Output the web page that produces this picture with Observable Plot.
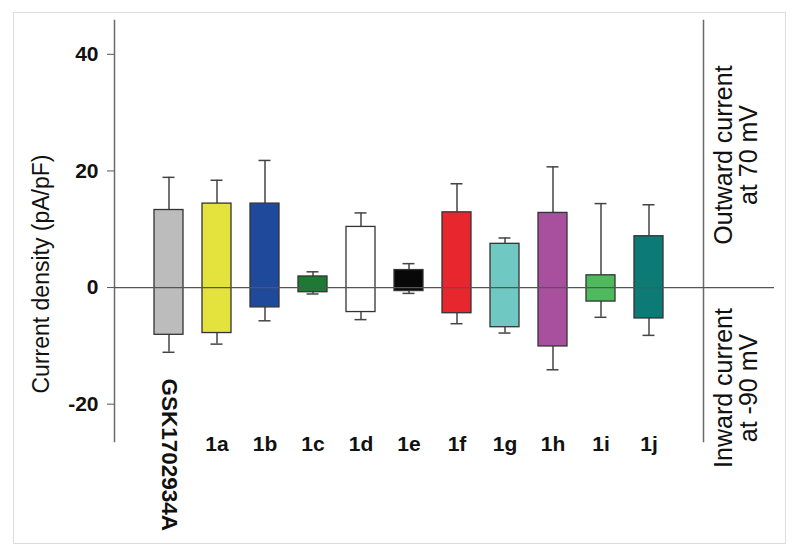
<!DOCTYPE html>
<html>
<head>
<meta charset="utf-8">
<script src="https://cdn.jsdelivr.net/npm/d3@7"></script>
<script src="https://cdn.jsdelivr.net/npm/@observablehq/plot@0.6"></script>
<style>
  html, body { margin: 0; padding: 0; background: #fff; }
  #wrap { position: relative; width: 800px; height: 556px; overflow: hidden; }
  #border { position: absolute; left: 13px; top: 12px; width: 773px; height: 532px; border: 1px solid #dcdcdc; box-sizing: border-box; pointer-events: none; }
  #chart { position: absolute; left: 0; top: 0; }
</style>
</head>
<body>
<div id="wrap"><div id="chart"></div><div id="border"></div></div>
<script>
// Categories
const names = ["GSK1702934A", "1a", "1b", "1c", "1d", "1e", "1f", "1g", "1h", "1i", "1j"];
// Outward current at 70 mV (mean, pA/pF) and its error
const outward = [13.3, 14.4, 14.4, 1.9, 10.4, 3.0, 12.9, 7.5, 12.8, 2.1, 8.8];
const outwardErr = [5.6, 4.0, 7.4, 0.8, 2.4, 1.1, 4.9, 1.0, 7.9, 12.3, 5.4];
// Inward current at -90 mV (mean, pA/pF) and its error
const inward = [-8.1, -7.8, -3.4, -0.8, -4.2, -0.6, -4.4, -6.8, -10.1, -2.4, -5.3];
const inwardErr = [3.0, 1.9, 2.3, 0.3, 1.3, 0.4, 1.8, 1.0, 4.0, 2.7, 2.9];
// Bar colours
const colors = ["#bcbcbc", "#e4e23c", "#1f4a9c", "#1d7a33", "#ffffff", "#080808", "#e8262d", "#6fc8c1", "#a84f9d", "#4fb95e", "#0c7a75"];
// Y tick values
const yTicks = [40, 20, 0, -20];

const data = names.map((name, i) => ({
  name,
  out: outward[i],
  outTop: outward[i] + outwardErr[i],
  inw: inward[i],
  inwBot: inward[i] - inwardErr[i]
}));

const font = "'Liberation Sans', Arial, Helvetica, sans-serif";

const plot = Plot.plot({
  width: 800,
  height: 556,
  marginLeft: 114,
  marginRight: 97,
  marginTop: 20,
  marginBottom: 115,
  style: { fontFamily: font, background: "transparent", overflow: "visible" },
  x: { domain: names, paddingInner: 0.4, paddingOuter: 0.76, axis: null },
  y: { domain: [-26.4, 45.8], axis: null },
  color: { domain: names, range: colors },
  marks: [
    Plot.frame({ anchor: "left", stroke: "#6a6a6a", strokeWidth: 1.5 }),
    Plot.frame({ anchor: "right", stroke: "#6a6a6a", strokeWidth: 1.5 }),
    Plot.axisY({
      ticks: yTicks, tickSize: 7, tickPadding: 9, tickFormat: d => String(d),
      fontSize: 21, fontWeight: "bold", stroke: "#555", fill: "#111", label: null
    }),
    // error whiskers
    Plot.ruleX(data, { x: "name", y1: "out", y2: "outTop", stroke: "#444", strokeWidth: 1.5 }),
    Plot.ruleX(data, { x: "name", y1: "inw", y2: "inwBot", stroke: "#444", strokeWidth: 1.5 }),
    Plot.tickY(data, { x: "name", y: "outTop", stroke: "#444", strokeWidth: 1.5, insetLeft: 8.5, insetRight: 8.5 }),
    Plot.tickY(data, { x: "name", y: "inwBot", stroke: "#444", strokeWidth: 1.5, insetLeft: 8.5, insetRight: 8.5 }),
    // bars
    Plot.barY(data, { x: "name", y1: "inw", y2: "out", fill: "name", stroke: "#333", strokeWidth: 1.3 }),
    // zero line
    Plot.ruleY([0], { stroke: "#555", strokeWidth: 1.2, insetRight: -71 }),
    // category labels
    Plot.text(data.filter(d => d.name !== "GSK1702934A"), {
      x: "name", text: "name", frameAnchor: "bottom", dy: 3, lineAnchor: "middle",
      fontSize: 21, fontWeight: "bold", fill: "#111"
    }),
    Plot.text(data.filter(d => d.name === "GSK1702934A"), {
      x: "name", text: "name", frameAnchor: "bottom", dy: -63, rotate: 90,
      textAnchor: "start", lineAnchor: "middle",
      fontSize: 22.5, fontWeight: "bold", fill: "#111"
    }),
    // y label
    Plot.text(["Current density (pA/pF)"], {
      text: d => d, frameAnchor: "left", dx: -73, dy: 43, rotate: -90,
      textAnchor: "middle", lineAnchor: "middle", fontSize: 23, fill: "#111"
    }),
    // right labels
    Plot.text(["Outward current\nat 70 mV"], {
      text: d => d, frameAnchor: "right", dx: 33, dy: -76, rotate: -90,
      textAnchor: "middle", lineAnchor: "middle", fontSize: 25, lineHeight: 1, fill: "#111"
    }),
    Plot.text(["Inward current\nat -90 mV"], {
      text: d => d, frameAnchor: "right", dx: 33, dy: 157, rotate: -90,
      textAnchor: "middle", lineAnchor: "middle", fontSize: 25, lineHeight: 1, fill: "#111"
    })
  ]
});

document.getElementById("chart").appendChild(plot);
</script>
</body>
</html>
